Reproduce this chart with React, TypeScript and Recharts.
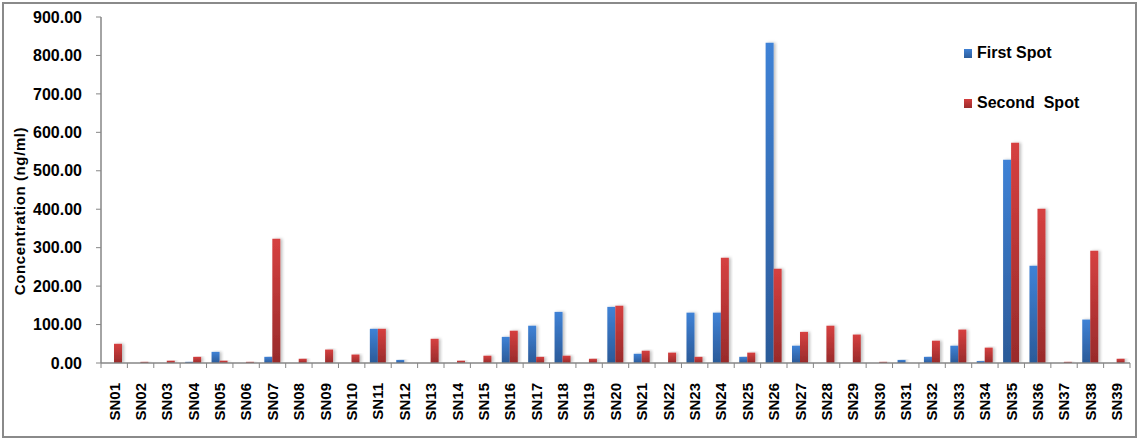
import React from 'react';
import { BarChart, Bar, XAxis, YAxis, Legend } from 'recharts';

const categories = ['SN01','SN02','SN03','SN04','SN05','SN06','SN07','SN08','SN09','SN10','SN11','SN12','SN13','SN14','SN15','SN16','SN17','SN18','SN19','SN20','SN21','SN22','SN23','SN24','SN25','SN26','SN27','SN28','SN29','SN30','SN31','SN32','SN33','SN34','SN35','SN36','SN37','SN38','SN39'];
const firstSpot = [0,0,0,3,29,0,16,0,0,0,89,8,0,0,0,68,97,133,0,146,24,0,131,131,16,833,45,0,0,0,8,16,45,5,529,253,0,113,0];
const secondSpot = [50,3,6,16,6,3,323,11,35,22,89,0,63,6,19,84,16,19,11,149,32,27,16,274,27,245,81,97,74,3,0,58,87,40,573,401,3,292,11];
const yTicks = [0,100,200,300,400,500,600,700,800,900];

const data = categories.map((c, i) => ({ name: c, first: firstSpot[i], second: secondSpot[i] }));

const W = 1138;
const H = 439;
const M = { top: 17, right: 8, bottom: 0, left: 0 };
const Y_W = 101;
const X_H = 76;
const PLOT_W = W - M.left - M.right - Y_W;
const BAND = PLOT_W / categories.length;
const AXIS_C = '#868686';
const FONT = 'Arial, "Liberation Sans", sans-serif';

const XTick = (props: any) => {
  const { x, y, payload, index } = props;
  const half = BAND / 2;
  const last = index === categories.length - 1;
  return (
    <g>
      <line x1={x - half} x2={x - half} y1={y} y2={y + 5} stroke={AXIS_C} strokeWidth={1} />
      {last && <line x1={x + half} x2={x + half} y1={y} y2={y + 5} stroke={AXIS_C} strokeWidth={1} />}
      <text
        transform={`translate(${x},${y + 20}) rotate(-90)`}
        textAnchor="end"
        dy="0.355em"
        fontFamily={FONT}
        fontWeight="bold"
        fontSize={15}
        fill="#000"
      >
        {payload.value}
      </text>
    </g>
  );
};

const YLabel = () => (
  <text
    transform="translate(20,211) rotate(-90)"
    textAnchor="middle"
    dy="0.355em"
    fontFamily={FONT}
    fontWeight="bold"
    fontSize={15}
    letterSpacing={0.6}
    fill="#000"
  >
    Concentration (ng/ml)
  </text>
);

const LegendContent = () => (
  <div style={{ fontFamily: FONT, fontWeight: 'bold', fontSize: 16, color: '#000' }}>
    <div style={{ display: 'flex', alignItems: 'center', height: 20, marginBottom: 30 }}>
      <div style={{ width: 8, height: 9, background: 'linear-gradient(#3F80D3,#2C5C9A)', marginRight: 5 }} />
      <span style={{ whiteSpace: 'pre' }}>First Spot</span>
    </div>
    <div style={{ display: 'flex', alignItems: 'center', height: 20 }}>
      <div style={{ width: 8, height: 9, background: 'linear-gradient(#D43E3E,#9A2B2B)', marginRight: 5 }} />
      <span style={{ whiteSpace: 'pre' }}>Second  Spot</span>
    </div>
  </div>
);

export default function App() {
  return (
    <div style={{ position: 'absolute', left: 0, top: 0, width: W, height: H, background: '#fff' }}>
      <div style={{ position: 'absolute', left: 2, top: 2, width: W - 7, height: H - 7, border: '2px solid #8a8a8a' }} />
      <div style={{ position: 'absolute', left: 0, top: 0 }}>
        <BarChart width={W} height={H} data={data} margin={M} barCategoryGap="19%" barGap={0}>
          <defs>
            <linearGradient id="gBlue" x1="0" y1="0" x2="0" y2="1">
              <stop offset="0%" stopColor="#3F82D6" />
              <stop offset="100%" stopColor="#2B5A98" />
            </linearGradient>
            <linearGradient id="gRed" x1="0" y1="0" x2="0" y2="1">
              <stop offset="0%" stopColor="#D64040" />
              <stop offset="100%" stopColor="#982B2B" />
            </linearGradient>
            <filter id="shadow" x="-50%" y="-10%" width="200%" height="120%">
              <feDropShadow dx="2" dy="0" stdDeviation="1.5" floodColor="#000" floodOpacity="0.25" />
            </filter>
          </defs>
          <XAxis
            dataKey="name"
            interval={0}
            height={X_H}
            tickLine={false}
            tickSize={0}
            tickMargin={0}
            axisLine={{ stroke: AXIS_C, strokeWidth: 1.5 }}
            tick={<XTick />}
          />
          <YAxis
            width={Y_W}
            domain={[0, 900]}
            ticks={yTicks}
            interval={0}
            allowDataOverflow
            tickFormatter={(v: number) => v.toFixed(2)}
            tick={{ fontFamily: FONT, fontWeight: 'bold', fontSize: 16, fill: '#000' }}
            tickSize={5}
            tickMargin={14}
            tickLine={{ stroke: AXIS_C }}
            axisLine={{ stroke: AXIS_C, strokeWidth: 1.5 }}
            label={{ content: () => <YLabel /> }}
          />
          <Legend
            layout="horizontal"
            verticalAlign="middle"
            align="center"
            wrapperStyle={{ left: 964, top: 43, width: 160, height: 70 }}
            content={() => <LegendContent />}
          />
          <Bar dataKey="first" name="First Spot" fill="url(#gBlue)" isAnimationActive={false} style={{ filter: 'url(#shadow)' }} />
          <Bar dataKey="second" name="Second Spot" fill="url(#gRed)" isAnimationActive={false} style={{ filter: 'url(#shadow)' }} />
        </BarChart>
      </div>
    </div>
  );
}
